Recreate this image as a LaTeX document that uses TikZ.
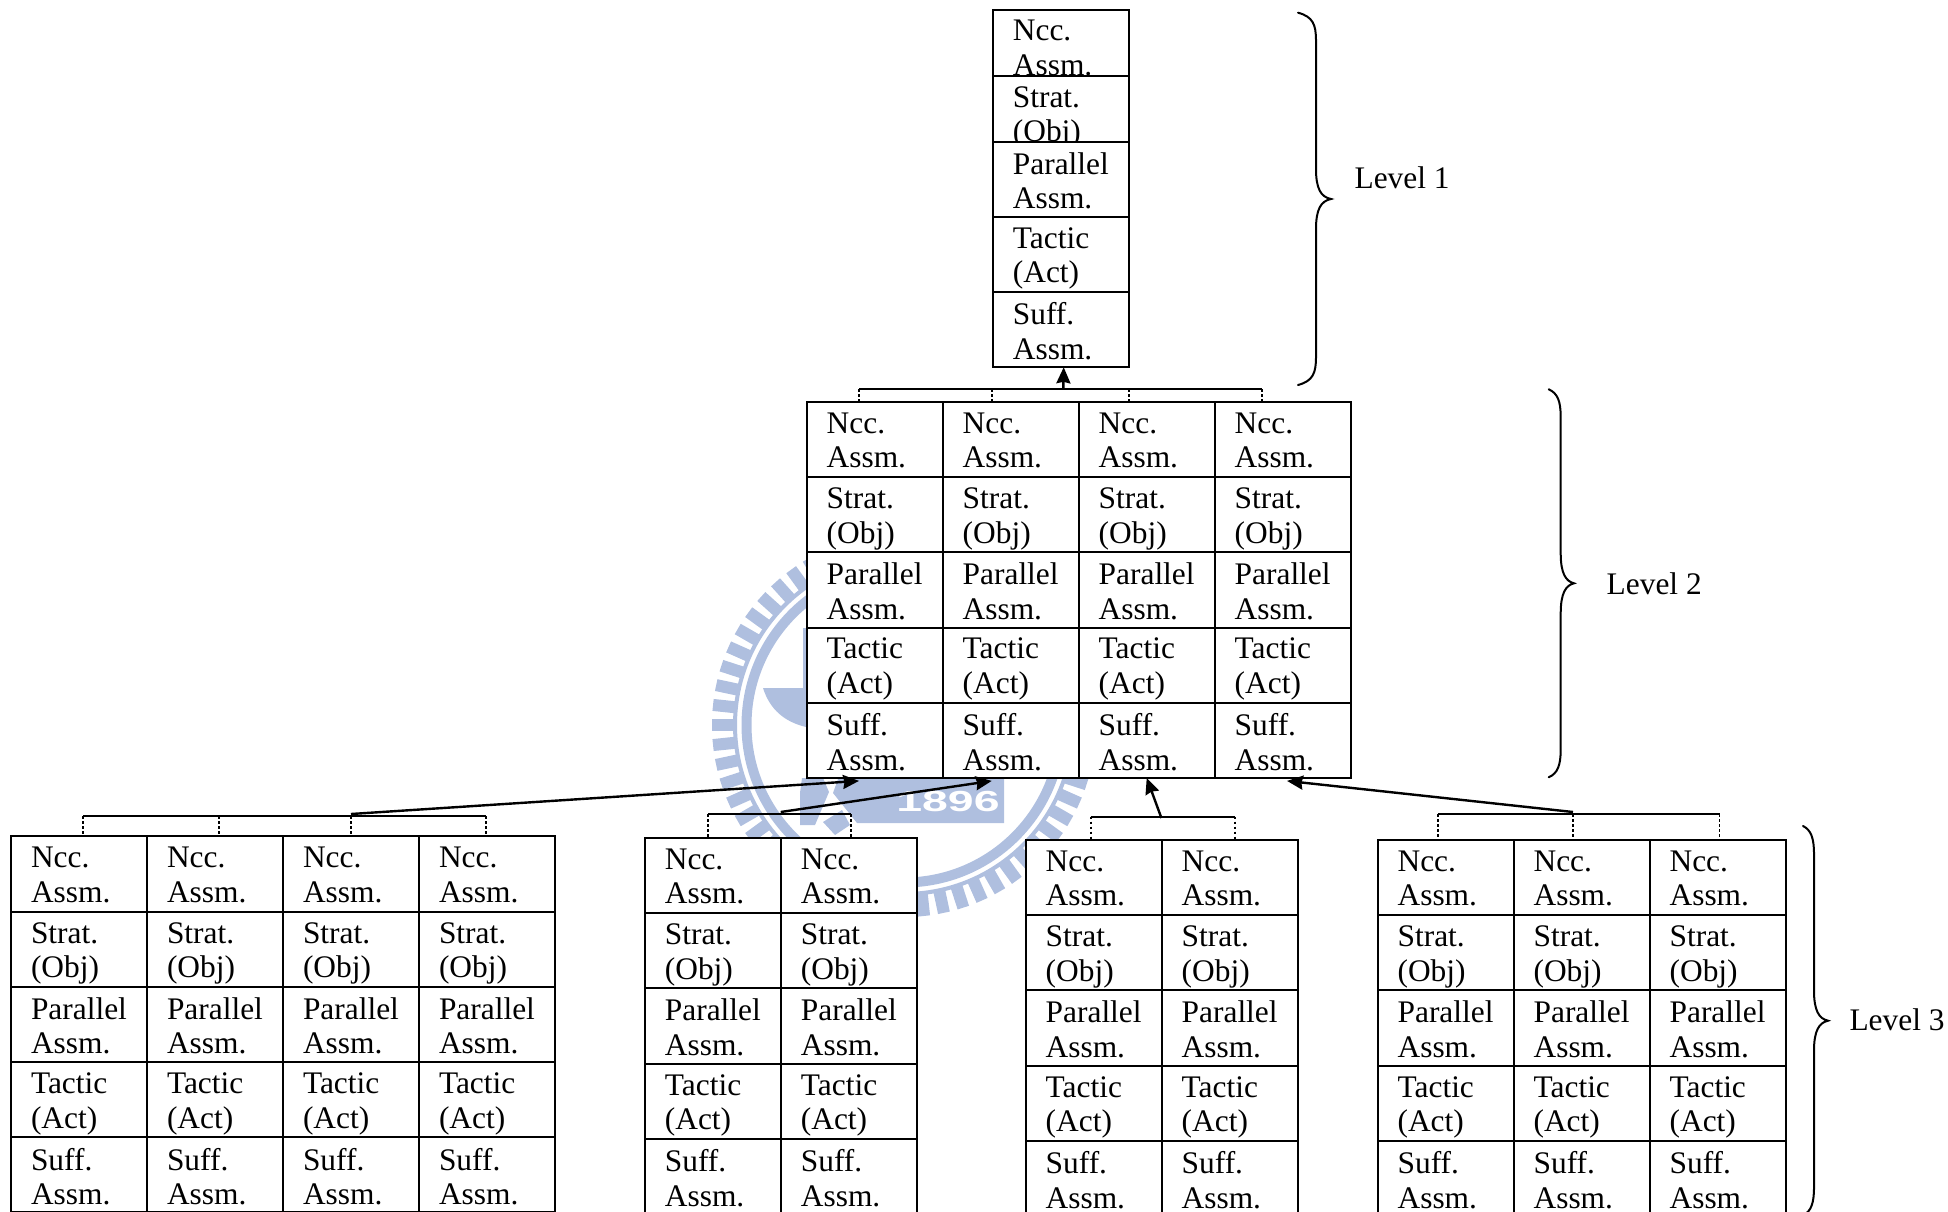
\documentclass[tikz,border=0pt]{standalone}
\usepackage{fontspec}
\setmainfont{Liberation Serif}
\newfontfamily\crestfont{Liberation Sans}
\usetikzlibrary{arrows.meta}
\definecolor{crestblue}{HTML}{AFBFDF}
\tikzset{
	cellbox/.style={draw=black, fill=white, line width=2pt, anchor=north west, inner sep=0pt, outer sep=0pt, minimum width=136pt},
	celltext/.style={anchor=north west, inner sep=0pt, outer sep=0pt, align=left, font=\fontsize{31.4}{34.5}\selectfont, execute at begin node={\rule{0pt}{24pt}}},
	levellabel/.style={anchor=base west, inner sep=0pt, outer sep=0pt, font=\fontsize{31.4}{34.5}\selectfont},
	barlink/.style={line width=2.4pt},
	droplink/.style={line width=1.8pt, dash pattern=on 2.5pt off 2.5pt},
	uplink/.style={line width=2.4pt, -{Stealth[length=16pt,width=14pt,inset=1.5pt]}},
	bracelink/.style={line width=2pt, line cap=round},
	crestpart/.style={fill=crestblue, draw=none}
}
\def\celllist{1/Ncc.\\Assm., 2/Strat.\\(Obj), 3/Parallel\\Assm., 4/Tactic\\(Act), 5/Suff.\\Assm.}
\begin{document}
\begin{tikzpicture}[x=1pt, y=-1pt]
	\useasboundingbox (0,0) rectangle (1948,1212);

	\begin{scope}[shift={(904,725)}]
		\foreach \ang in {0,6,...,354}
			\draw[crestblue, line width=12pt] (\ang:169) -- (\ang:192);
		\draw[crestblue, line width=4pt] (0,0) circle[radius=169];
		\draw[crestblue, line width=10pt] (0,0) circle[radius=157.5];
	\end{scope}
	\fill[crestpart] (763,688) -- (806,688) -- (806,727) .. controls (785,722) and (770,710) .. cycle;
	\fill[crestpart] (803,628) rectangle (807,688);
	\fill[crestpart] (802,778) -- (823,778) -- (829,792) -- (815,825) -- (800,825) -- (800,793) -- cycle;
	\fill[crestpart] (823,822) -- (842,810) -- (850,825) -- (835,835) -- cycle;
	\fill[crestpart] (838,779) -- (1004,779) -- (1004,823) -- (857,823) -- (833,793) -- cycle;
	\node[white, xscale=1.6, inner sep=0pt, font=\crestfont\bfseries\fontsize{29}{29}\selectfont] (crestyear) at (948,802) {1896};

	\foreach \row/\ytop/\rowh/\txt in {1/9.7/66/Ncc.\\Assm., 2/75.7/66/Strat.\\(Obj), 3/141.7/75/Parallel\\Assm., 4/216.7/75/Tactic\\(Act), 5/291.7/75.6/Suff.\\Assm.} {
		\node[cellbox, minimum height=\rowh pt] (la1\row) at (992.9,\ytop) {};
		\node[celltext] (la1\row t) at ([xshift=20pt,yshift=-10.7pt]la1\row.north west) {\txt};
	}

	\foreach \grp/\xleft/\ytop/\cols in {lb/806.7/401.9/4, ca/11/836.4/4, cb/644.9/838/2, cc/1025.7/839.9/2, cd/1377.6/839.9/3}
		\foreach \col in {1,...,\cols}
			\foreach \row/\txt in \celllist {
				\pgfmathsetmacro{\xcell}{\xleft + 136*(\col-1)}
				\pgfmathsetmacro{\ycell}{\ytop + 75.2*(\row-1)}
				\node[cellbox, minimum height=75.2pt] (\grp\col\row) at (\xcell,\ycell) {};
				\node[celltext] (\grp\col\row t) at ([xshift=20pt,yshift=-10.7pt]\grp\col\row.north west) {\txt};
			}

	\foreach \grp/\col/\xdrop/\ydrop in {lb/1/859/389, lb/2/992.3/389, lb/3/1128.6/389, lb/4/1261.7/389, ca/1/83/816, ca/2/219/816, ca/3/351/816, ca/4/486/816, cb/1/708/814, cb/2/850.7/814, cc/1/1090.7/816.7, cc/2/1235/816.7, cd/1/1438/814, cd/2/1573/814, cd/3/1719.5/814} {
		\coordinate (\grp drop\col) at (\xdrop,\ydrop);
		\draw[droplink] (\grp drop\col) -- (\grp drop\col |- \grp\col1.north);
	}
	\draw[barlink] (lbdrop1) -- (lbdrop4);
	\draw[barlink] (cadrop1) -- (cadrop4);
	\draw[barlink] (cbdrop1) -- (cbdrop2);
	\draw[barlink] (ccdrop1) -- (ccdrop2);
	\draw[barlink] (cddrop1) -- (cddrop3);

	\coordinate (lbstem) at (1063.3,389);
	\coordinate (castem) at (351,814);
	\coordinate (cbstem) at (780.7,812);
	\coordinate (ccstem) at (1161.4,818);
	\coordinate (cdstem) at (1573,812);
	\draw[uplink] (lbstem) -- ([xshift=2.8pt]la15.south);
	\draw[uplink] (castem) -- ([xshift=-15.7pt,yshift=-3pt]lb15.south);
	\draw[uplink] (cbstem) -- ([xshift=-19pt,yshift=-3pt]lb25.south);
	\draw[uplink] (ccstem) -- (lb35.south);
	\draw[uplink] (cdstem) -- ([xshift=4.3pt,yshift=-3pt]lb45.south);

	\foreach \xend/\xspine/\xtip/\ya/\ymid/\yb in {1298/1316/1331/12.7/199/385, 1548.7/1560.7/1574/389.3/583.3/777.3, 1803/1814/1828/826/1020.7/1215.4}
		\draw[bracelink] (\xend,\ya) .. controls ({\xspine-3},{\ya+4}) and (\xspine,{\ya+12}) .. (\xspine,{\ya+28}) -- (\xspine,{\ymid-30}) .. controls (\xspine,{\ymid-10}) and ({\xspine+5},{\ymid-2}) .. (\xtip,\ymid) .. controls ({\xspine+5},{\ymid+2}) and (\xspine,{\ymid+10}) .. (\xspine,{\ymid+30}) -- (\xspine,{\yb-28}) .. controls (\xspine,{\yb-12}) and ({\xspine-3},{\yb-4}) .. (\xend,\yb);

	\node[levellabel] (levelone) at (1354.6,188) {Level 1};
	\node[levellabel] (leveltwo) at (1606.7,594.3) {Level 2};
	\node[levellabel] (levelthree) at (1849.5,1030) {Level 3};
\end{tikzpicture}
\end{document}
